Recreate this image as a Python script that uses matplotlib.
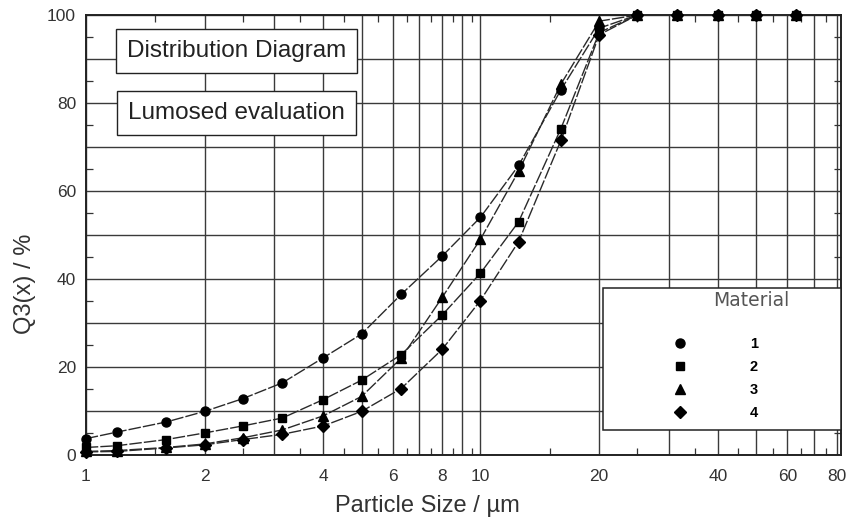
import matplotlib
matplotlib.use("Agg")
import matplotlib.pyplot as plt
from matplotlib.ticker import FixedLocator, FixedFormatter, NullFormatter
from matplotlib.lines import Line2D
from matplotlib.patches import Rectangle

plt.rcParams['font.family'] = ['Liberation Sans', 'DejaVu Sans']

# ---- data ----
particle_size = [1, 1.2, 1.6, 2, 2.5, 3.15, 4, 5, 6.3, 8, 10, 12.5, 16, 20, 25, 31.5, 40, 50, 63]
material_1 = [3.7, 5.2, 7.5, 9.9, 12.8, 16.4, 22.1, 27.5, 36.5, 45.2, 54.0, 65.8, 83.0, 97.0, 100, 100, 100, 100, 100]
material_2 = [1.7, 2.1, 3.5, 5.0, 6.6, 8.4, 12.6, 17.0, 22.8, 31.8, 41.3, 53.0, 74.2, 96.0, 100, 100, 100, 100, 100]
material_3 = [0.8, 1.0, 1.7, 2.5, 3.9, 5.7, 8.9, 13.3, 22.0, 35.8, 49.0, 64.5, 84.3, 98.6, 100, 100, 100, 100, 100]
material_4 = [0.7, 0.8, 1.6, 2.3, 3.5, 4.7, 6.6, 9.9, 15.1, 24.0, 35.1, 48.5, 71.5, 95.5, 100, 100, 100, 100, 100]
series_labels = ['1', '2', '3', '4']
series_markers = ['o', 's', '^', 'D']
series_msize = [6.5, 5.8, 7.0, 5.8]

x_grid = [1, 2, 3, 4, 5, 6, 7, 8, 9, 10, 20, 30, 40, 50, 60, 70, 80]
x_labels = ['1', '2', '', '4', '', '6', '', '8', '', '10', '20', '', '40', '', '60', '', '80']
x_minor = [1.5, 2.5, 3.5, 4.5, 5.5, 6.5, 7.5, 8.5, 9.5, 15, 25, 35, 45, 55, 65, 75]
y_grid = [0, 10, 20, 30, 40, 50, 60, 70, 80, 90, 100]
y_labels = ['0', '', '20', '', '40', '', '60', '', '80', '', '100']
y_minor = [5, 15, 25, 35, 45, 55, 65, 75, 85, 95]

# ---- figure ----
fig = plt.figure(figsize=(8.49, 5.17), dpi=100)
ax = fig.add_axes([0.101, 0.12, 0.8896, 0.851])
ax.set_xscale('log')
ax.set_xlim(1, 82)
ax.set_ylim(0, 100)

ax.xaxis.set_major_locator(FixedLocator(x_grid))
ax.xaxis.set_major_formatter(FixedFormatter(x_labels))
ax.xaxis.set_minor_locator(FixedLocator(x_minor))
ax.xaxis.set_minor_formatter(NullFormatter())
ax.yaxis.set_major_locator(FixedLocator(y_grid))
ax.yaxis.set_major_formatter(FixedFormatter(y_labels))
ax.yaxis.set_minor_locator(FixedLocator(y_minor))

ax.tick_params(which='major', length=0, labelsize=12.5, labelcolor='#333333')
ax.tick_params(axis='x', which='major', pad=10)
ax.tick_params(axis='y', which='major', pad=7)
ax.tick_params(which='minor', direction='in', length=5, width=0.9, color='#333333',
               top=True, bottom=True, left=True, right=True)
ax.grid(True, which='major', color='#3a3a3a', linewidth=1.0)
for sp in ax.spines.values():
    sp.set_linewidth(1.4)
    sp.set_color('#222222')

series = [material_1, material_2, material_3, material_4]
handles = []
for vals, lab, mk, ms in zip(series, series_labels, series_markers, series_msize):
    ax.plot(particle_size, vals, color='#2a2a2a', linewidth=1.0,
            linestyle=(0, (9, 1.5)), zorder=3, clip_on=False)
    ax.plot(particle_size, vals, linestyle='none', marker=mk, markersize=ms,
            color='black', zorder=4, clip_on=False)
    handles.append(Line2D([], [], linestyle='none', marker=mk, markersize=ms, color='black'))

ax.set_xlabel('Particle Size / µm', fontsize=17, color='#333333')
ax.xaxis.set_label_coords(0.452, -0.09)
ax.set_ylabel('Q3(x) / %', fontsize=17, color='#333333')
ax.yaxis.set_label_coords(-0.066, 0.39)

box_kw = dict(boxstyle='square,pad=0.45', facecolor='white', edgecolor='#222222', linewidth=1.0)
ax.text(0.2, 0.919, 'Distribution Diagram', transform=ax.transAxes, fontsize=17.5,
        ha='center', va='center', color='#222222', bbox=box_kw, zorder=6)
ax.text(0.2, 0.778, 'Lumosed evaluation', transform=ax.transAxes, fontsize=17.5,
        ha='center', va='center', color='#222222', bbox=box_kw, zorder=6)

# legend panel
ax.add_patch(Rectangle((0.685, 0.0568), 0.315, 0.3227, transform=ax.transAxes,
                       facecolor='white', edgecolor='#222222', linewidth=1.1,
                       zorder=7, clip_on=False))
ax.text(0.8814, 0.35, 'Material', transform=ax.transAxes, fontsize=13.5,
        family='DejaVu Sans', color='#555555', ha='center', va='center', zorder=8)
leg = ax.legend(handles, series_labels, loc='upper left',
                bbox_to_anchor=(0.777, 0.2690), frameon=False,
                borderpad=0.0, labelspacing=0.63, handlelength=1.0,
                handletextpad=4.3, borderaxespad=0.0,
                prop={'weight': 'bold', 'size': 10.5})
leg.set_zorder(9)

fig.savefig('out.png', dpi=100)
